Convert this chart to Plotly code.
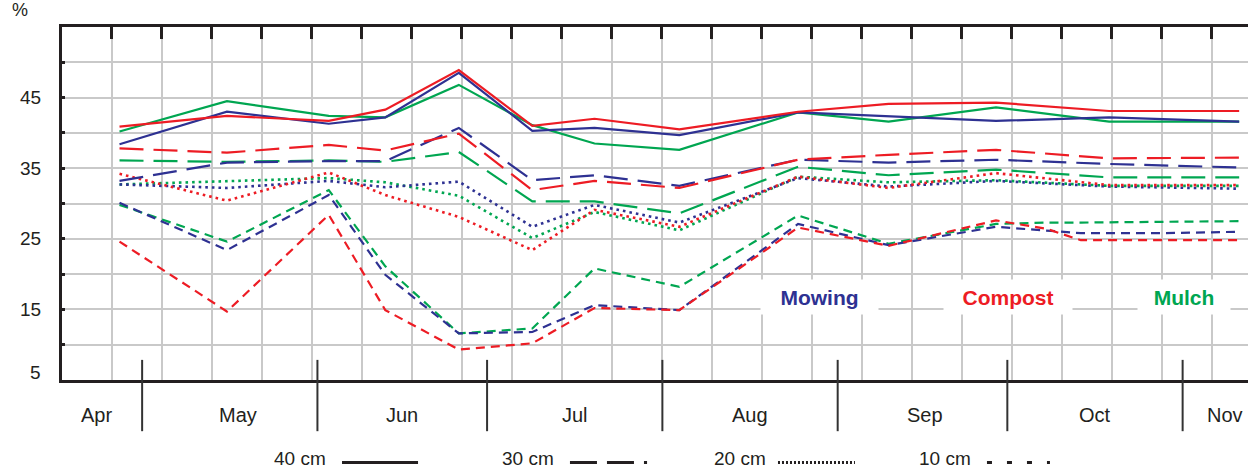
import plotly.graph_objects as go

# ---------------- data (day of year, soil moisture %) ----------------
days = [117, 136, 154, 164, 177, 190, 201, 216, 237, 253, 272, 292, 315]
days_10 = [117, 136, 154, 164, 177, 190, 201, 216, 237, 253, 272, 281, 287, 302, 315]

mowing_40 = [38.4, 43.0, 41.3, 42.2, 48.5, 40.3, 40.7, 39.7, 42.9, 42.4, 41.7, 42.2, 41.6]
compost_40 = [40.9, 42.4, 41.7, 43.3, 48.9, 41.0, 42.0, 40.5, 43.0, 44.1, 44.3, 43.1, 43.1]
mulch_40 = [40.2, 44.5, 42.4, 42.2, 46.8, 41.1, 38.5, 37.6, 42.9, 41.6, 43.6, 41.6, 41.6]

mowing_30 = [33.2, 35.8, 36.0, 36.0, 40.7, 33.3, 34.0, 32.5, 36.2, 35.8, 36.2, 35.6, 35.1]
compost_30 = [37.8, 37.2, 38.3, 37.5, 39.9, 31.9, 33.2, 32.2, 36.2, 36.9, 37.6, 36.4, 36.5]
mulch_30 = [36.1, 35.9, 36.1, 35.9, 37.3, 30.3, 30.3, 28.6, 35.2, 34.0, 34.8, 33.7, 33.7]

mowing_20 = [32.7, 32.2, 33.2, 32.3, 33.1, 26.7, 29.8, 27.3, 33.6, 32.4, 33.2, 32.4, 32.1]
compost_20 = [34.2, 30.4, 34.4, 31.2, 28.1, 23.4, 29.1, 26.7, 33.8, 32.2, 34.3, 32.6, 32.6]
mulch_20 = [32.7, 33.2, 33.6, 33.0, 31.1, 25.1, 28.8, 26.2, 33.8, 33.0, 33.3, 32.5, 32.5]

mowing_10 = [30.1, 23.4, 31.2, 19.9, 11.6, 11.8, 15.6, 14.9, 27.1, 24.1, 26.7, 26.2, 25.8, 25.8, 26.0]
compost_10 = [24.6, 14.7, 28.4, 14.9, 9.3, 10.2, 15.2, 14.9, 26.6, 24.0, 27.6, 26.4, 24.8, 24.8, 24.8]
mulch_10 = [29.8, 24.6, 31.9, 21.1, 11.6, 12.3, 20.8, 18.2, 28.3, 24.3, 27.1, 27.3, 27.3, 27.4, 27.5]

treatments = ["Mowing", "Compost", "Mulch"]
depths = ["40 cm", "30 cm", "20 cm", "10 cm"]
month_names = ["Apr", "May", "Jun", "Jul", "Aug", "Sep", "Oct", "Nov"]
month_label_day = [113, 138, 167, 197.5, 228.5, 259.5, 289.5, 312.5]
month_starts = [121, 152, 182, 213, 244, 274, 305]
y_tick_vals = [5, 10, 15, 20, 25, 30, 35, 40, 45, 50]
y_tick_text = ["", "", "15", "", "25", "", "35", "", "45", ""]
y_bottom_label = "5"

series = {
    ("Mowing", "40 cm"): (days, mowing_40),
    ("Compost", "40 cm"): (days, compost_40),
    ("Mulch", "40 cm"): (days, mulch_40),
    ("Mowing", "30 cm"): (days, mowing_30),
    ("Compost", "30 cm"): (days, compost_30),
    ("Mulch", "30 cm"): (days, mulch_30),
    ("Mowing", "20 cm"): (days, mowing_20),
    ("Compost", "20 cm"): (days, compost_20),
    ("Mulch", "20 cm"): (days, mulch_20),
    ("Mowing", "10 cm"): (days_10, mowing_10),
    ("Compost", "10 cm"): (days_10, compost_10),
    ("Mulch", "10 cm"): (days_10, mulch_10),
}

# ---------------- styles ----------------
colors = {"Mowing": "#2E3192", "Compost": "#ED1C24", "Mulch": "#00A651"}
dashes = {"40 cm": "solid", "30 cm": "24px,10px", "20 cm": "2.6px,4px", "10 cm": "9px,6px"}
widths = {"40 cm": 2.2, "30 cm": 2.2, "20 cm": 2.6, "10 cm": 2.2}
legend_dashes = {"40 cm": "solid", "30 cm": "27px,10px", "20 cm": "2px,2px", "10 cm": "5px,15px"}
INK = "#231F20"
FONT = "Liberation Sans, Arial, Helvetica, sans-serif"

fig = go.Figure()
for depth in ["10 cm", "20 cm", "30 cm", "40 cm"]:
    for tr in ["Mulch", "Mowing", "Compost"]:
        xs, ys = series[(tr, depth)]
        fig.add_trace(go.Scatter(
            x=xs, y=ys, mode="lines", name=f"{tr} {depth}",
            line=dict(color=colors[tr], width=widths[depth], dash=dashes[depth]),
            showlegend=False, hoverinfo="x+y+name"))

x_range = [106.83, 316.56]
px_per_day = 1186 / (x_range[1] - x_range[0])

fig.update_layout(
    width=1256, height=471,
    margin=dict(l=62, r=8, t=27, b=91),
    paper_bgcolor="white", plot_bgcolor="white",
    font=dict(family=FONT, color=INK),
    xaxis=dict(
        range=x_range, side="top",
        tick0=115.62, dtick=50 / px_per_day,
        showgrid=True, gridcolor="#C9C9C9", gridwidth=2,
        ticks="inside", ticklen=12, tickwidth=3, tickcolor=INK,
        showticklabels=False,
        showline=True, linewidth=3, linecolor=INK, mirror=True,
        zeroline=False,
    ),
    yaxis=dict(
        range=[5, 55],
        tickvals=y_tick_vals, ticktext=y_tick_text,
        showgrid=True, gridcolor="#C9C9C9", gridwidth=2,
        ticks="inside", ticklen=3, tickwidth=2.5, tickcolor=INK,
        tickfont=dict(size=19, color=INK, family=FONT),
        ticklabelstandoff=14,
        showline=True, linewidth=3, linecolor=INK,
        zeroline=False,
    ),
    yaxis2=dict(
        range=[5, 55], overlaying="y", side="right", anchor="x",
        tickvals=y_tick_vals, showticklabels=False,
        ticks="inside", ticklen=7, tickwidth=2.5, tickcolor=INK,
        showgrid=False, showline=True, linewidth=3, linecolor=INK,
        zeroline=False,
    ),
)

annotations = []
shapes = []

# "%" unit label
annotations.append(dict(text="%", xref="paper", yref="paper", x=-0.0354, y=1.014,
                        showarrow=False, xanchor="center", yanchor="bottom",
                        font=dict(size=18, color=INK)))
# bottom "5" label, sitting slightly above the axis as in the original
annotations.append(dict(text=y_bottom_label, xref="paper", yref="y", x=-0.016, y=6.1,
                        showarrow=False, xanchor="right", yanchor="middle",
                        font=dict(size=19, color=INK)))

# month labels and separators
for name, d in zip(month_names, month_label_day):
    annotations.append(dict(text=name, xref="x", yref="paper", x=d, y=-0.099,
                            showarrow=False, xanchor="center", yanchor="middle",
                            font=dict(size=20, color=INK)))
for d in month_starts:
    shapes.append(dict(type="line", xref="x", yref="paper", x0=d, x1=d,
                       y0=0.057, y1=-0.145, line=dict(color="#333333", width=2)))

# treatment labels with white boxes
treat_label_day = [240.8, 274.2, 305.2]
treat_box_w = [117, 128, 92]
for tr, d, w in zip(treatments, treat_label_day, treat_box_w):
    annotations.append(dict(text=f"<b>{tr}</b>", xref="x", yref="y", x=d, y=16.7,
                            showarrow=False, xanchor="center", yanchor="middle",
                            bgcolor="white", width=w, height=34, borderpad=0,
                            font=dict(size=21, color=colors[tr])))

# depth legend (text left, line sample right)
legend_text_x = [0.2007, 0.3929, 0.5717, 0.7445]
legend_line_x = [(0.2361, 0.3002), (0.4283, 0.4933), (0.6037, 0.6686), (0.7799, 0.8330)]
for dep, tx, (l0, l1) in zip(depths, legend_text_x, legend_line_x):
    annotations.append(dict(text=dep, xref="paper", yref="paper", x=tx, y=-0.221,
                            showarrow=False, xanchor="center", yanchor="middle",
                            borderpad=0,
                            font=dict(size=19, color=INK)))
    shapes.append(dict(type="line", xref="paper", yref="paper", x0=l0, x1=l1,
                       y0=-0.234, y1=-0.234,
                       line=dict(color=INK, width=3, dash=legend_dashes[dep])))

fig.update_layout(annotations=annotations, shapes=shapes)

fig.write_html(
    "out.html",
    config={"displayModeBar": False},
    post_script="document.body.style.margin='0';document.body.style.overflow='hidden';",
)
